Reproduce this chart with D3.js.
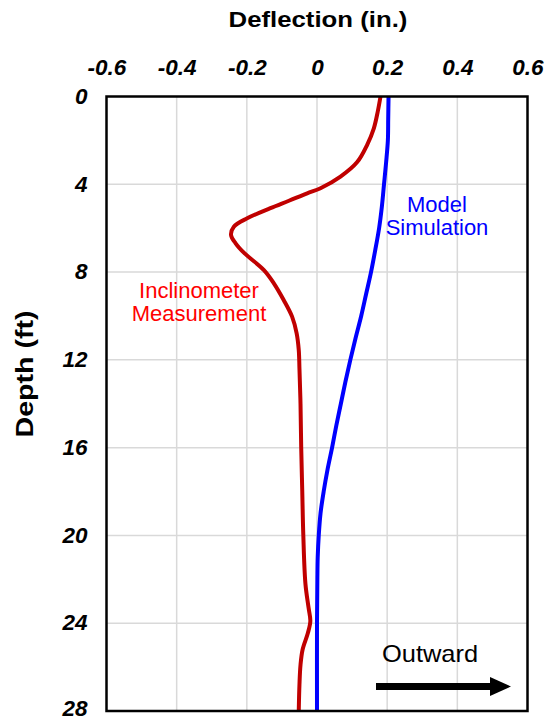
<!DOCTYPE html>
<html><head><meta charset="utf-8">
<script src="https://cdn.jsdelivr.net/npm/d3@7"></script>
<style>body{margin:0;background:#fff}svg{display:block}</style>
</head><body>
<script>
const xTicks = [-0.6, -0.4, -0.2, 0, 0.2, 0.4, 0.6];
const yTicks = [0, 4, 8, 12, 16, 20, 24, 28];
const redDepth = [0, 0.7, 1.45, 2.2, 3.0, 3.65, 4.18, 4.41, 4.75, 5.09, 5.55, 5.93, 6.31, 6.69, 7.14, 7.9, 8.51, 9.27, 10.03, 10.79, 11.55, 12.4, 14, 16, 18, 20, 22.2, 23.3, 23.9, 24.45, 25.2, 25.9, 26.8, 28];
const redValue = [0.181, 0.173, 0.162, 0.143, 0.114, 0.067, 0.010, -0.028, -0.080, -0.133, -0.199, -0.237, -0.245, -0.232, -0.207, -0.152, -0.123, -0.095, -0.071, -0.058, -0.052, -0.050, -0.047, -0.045, -0.042, -0.039, -0.033, -0.024, -0.019, -0.026, -0.041, -0.047, -0.050, -0.052];
const blueDepth = [0, 1, 2, 3, 4, 5, 6, 7, 8, 9, 10, 11, 12, 13, 14, 15, 16, 17, 18, 19, 20, 21, 22, 24, 28];
const blueValue = [0.204, 0.203, 0.202, 0.197, 0.191, 0.185, 0.177, 0.166, 0.154, 0.140, 0.126, 0.110, 0.095, 0.081, 0.068, 0.055, 0.043, 0.030, 0.019, 0.010, 0.005, 0.002, 0.001, 0.0, 0.0];

const W = 547, H = 721;
const L = 106.5, R = 527.5, T = 96.5, B = 711;
const svg = d3.select("body").append("svg").attr("width", W).attr("height", H);
const x = d3.scaleLinear().domain([-0.6, 0.6]).range([L, R]);
const y = d3.scaleLinear().domain([0, 28]).range([T, B]);
const font = "'Liberation Sans', Arial, Helvetica, sans-serif";

function txt(str, px, py, o) {
  return svg.append("text")
    .attr("transform", `translate(${px},${py}) rotate(${o.rot || 0}) scale(${o.sx || 1},1)`)
    .attr("text-anchor", o.anchor || "middle")
    .attr("font-family", font).attr("font-size", o.size)
    .attr("font-weight", o.weight || "normal").attr("font-style", o.style || "normal")
    .attr("fill", o.fill || "#000").text(str);
}

// grid
const g = svg.append("g");
g.selectAll("line.vx").data(xTicks.slice(1, -1)).enter().append("line")
  .attr("x1", d => x(d)).attr("x2", d => x(d)).attr("y1", T).attr("y2", B)
  .attr("stroke", "#d9d9d9").attr("stroke-width", 1.5);
g.selectAll("line.hy").data(yTicks.slice(1, -1)).enter().append("line")
  .attr("y1", d => y(d)).attr("y2", d => y(d)).attr("x1", L).attr("x2", R)
  .attr("stroke", "#d9d9d9").attr("stroke-width", 1.5);

// axes (labels only)
const xAxis = d3.axisTop(x).tickValues(xTicks).tickSize(0).tickPadding(0)
  .tickFormat(d => d === 0 ? "0" : d3.format(".1f")(d).replace("−", "-"));
const xa = svg.append("g").attr("transform", `translate(0,${T - 21.5})`).call(xAxis);
xa.select(".domain").remove();
xa.selectAll("text").attr("font-family", font).attr("font-size", 22.5)
  .attr("font-weight", "bold").attr("font-style", "italic").attr("fill", "#000").attr("dy", 0);

const yAxis = d3.axisLeft(y).tickValues(yTicks).tickSize(0).tickPadding(0).tickFormat(d3.format("d"));
const ya = svg.append("g").attr("transform", `translate(${L - 19},0)`).call(yAxis);
ya.select(".domain").remove();
ya.selectAll("text").attr("font-family", font).attr("font-size", 22.5)
  .attr("font-weight", "bold").attr("font-style", "italic").attr("fill", "#000")
  .attr("dy", d => d === 28 ? "0.2em" : "0.3em");

// lines
svg.append("clipPath").attr("id", "clip").append("rect").attr("x", L).attr("y", T).attr("width", R - L).attr("height", B - T);
const line = d3.line().x(d => x(d[1])).y(d => y(d[0])).curve(d3.curveCatmullRom.alpha(0.5));
svg.append("path").datum(blueDepth.map((d, i) => [d, blueValue[i]])).attr("d", line)
  .attr("fill", "none").attr("stroke", "#0000ff").attr("stroke-width", 4).attr("clip-path", "url(#clip)");
svg.append("path").datum(redDepth.map((d, i) => [d, redValue[i]])).attr("d", line)
  .attr("fill", "none").attr("stroke", "#c00000").attr("stroke-width", 4).attr("clip-path", "url(#clip)");

// frame
svg.append("rect").attr("x", L).attr("y", T).attr("width", R - L).attr("height", B - T)
  .attr("fill", "none").attr("stroke", "#000").attr("stroke-width", 2.5);

// titles
txt("Deflection (in.)", 318, 27, {size: 23, weight: "bold", sx: 1.12});
txt("Depth (ft)", 33, 374, {size: 24, weight: "bold", sx: 1.19, rot: -90});

// annotations
const ann = (lines, cx, y0, color) => {
  lines.forEach((t, i) => txt(t, cx, y0 + i * 22.5, {size: 22, fill: color}));
};
ann(["Model", "Simulation"], 437, 212, "#0000ff");
ann(["Inclinometer", "Measurement"], 199, 298, "#ff0000");
txt("Outward", 430, 662, {size: 24, sx: 1.06});

// arrow
svg.append("line").attr("x1", 376).attr("x2", 493).attr("y1", 686.5).attr("y2", 686.5)
  .attr("stroke", "#000").attr("stroke-width", 7);
svg.append("path").attr("d", `M490,677 L511,686.5 L490,696 Z`).attr("fill", "#000");
</script>
</body></html>
